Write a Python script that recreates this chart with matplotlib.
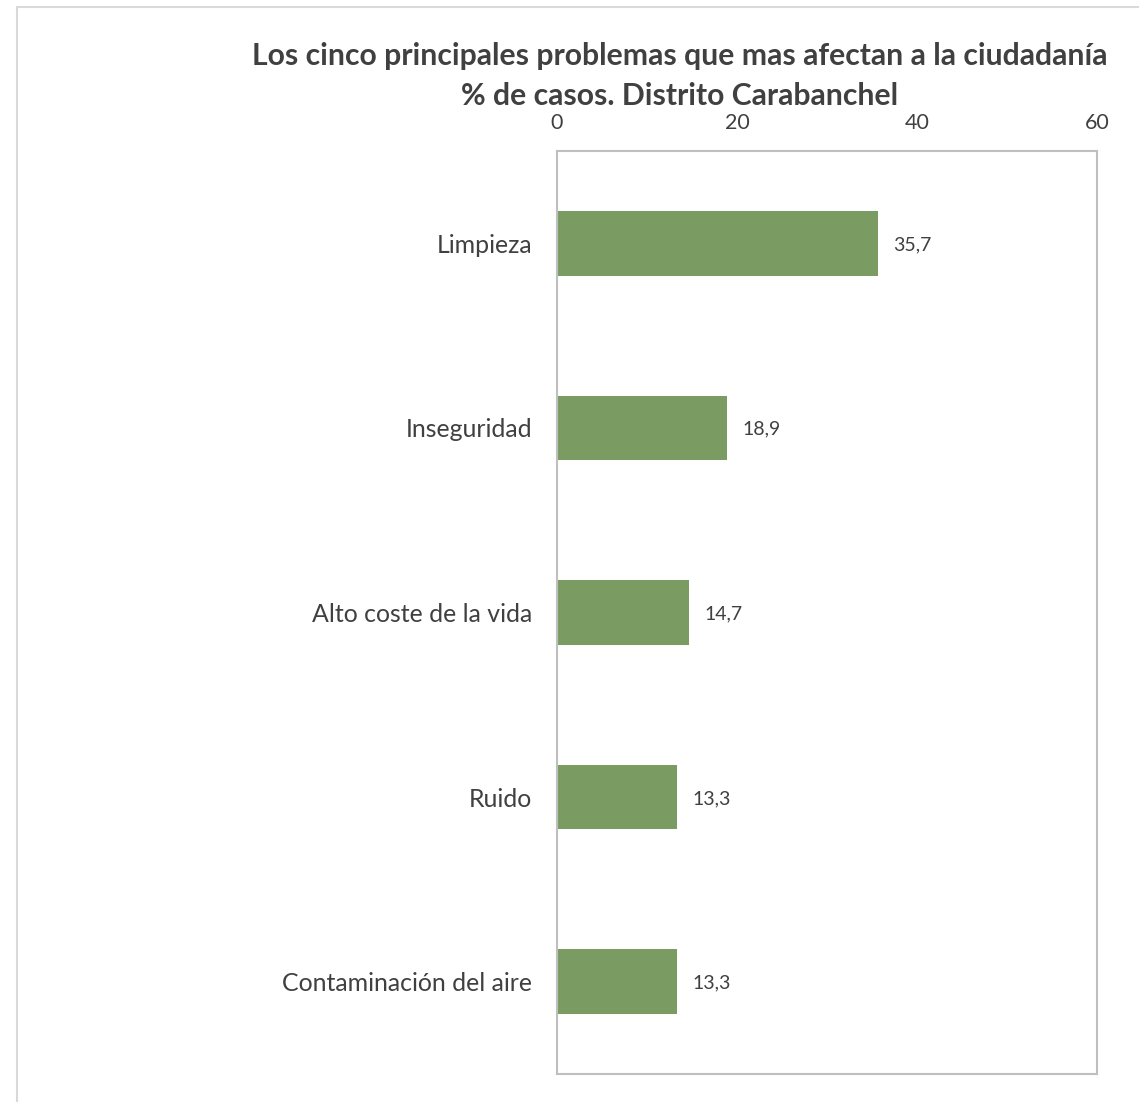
import matplotlib
matplotlib.use("Agg")
import matplotlib.pyplot as plt
from matplotlib.patches import Rectangle

categories = ["Limpieza", "Inseguridad", "Alto coste de la vida", "Ruido", "Contaminación del aire"]
values = [35.7, 18.9, 14.7, 13.3, 13.3]
value_labels = ["35,7", "18,9", "14,7", "13,3", "13,3"]
xticks = [0, 20, 40, 60]
title = "Los cinco principales problemas que mas afectan a la ciudadanía\n% de casos. Distrito Carabanchel"

plt.rcParams['font.family'] = ['Lato', 'DejaVu Sans']

fig = plt.figure(figsize=(11.39, 11.02), dpi=100)
# outer chart border
fig.patches.append(Rectangle((17/1139, -0.01), 1.05, 1 - 7/1102 + 0.01, transform=fig.transFigure,
                             fill=False, edgecolor="#D9D9D9", linewidth=1.5, zorder=0))

ax = fig.add_axes([557/1139, 1 - 1074/1102, (1097 - 557)/1139, (1074 - 151)/1102])
ypos = list(range(len(categories)))
ax.barh(ypos, values, height=0.35, color="#7A9C62")
ax.set_ylim(len(categories) - 0.5, -0.5)
ax.set_xlim(0, 60)
ax.set_xticks(xticks)
ax.set_xticklabels([str(t) for t in xticks], fontsize=15.5, color="#404040")
ax.xaxis.tick_top()
ax.tick_params(axis='x', length=0, pad=13)
ax.set_yticks(ypos)
ax.set_yticklabels(categories, fontsize=17.9, color="#404040")
ax.tick_params(axis='y', length=0, pad=18)
for s in ax.spines.values():
    s.set_color("#BFBFBF")
    s.set_linewidth(1.5)
for y, v, lab in zip(ypos, values, value_labels):
    ax.annotate(lab, (v, y), xytext=(11, -1), textcoords="offset points",
                va="center", ha="left", fontsize=14, color="#404040")

fig.text(680/1139, 1 - 76/1102, title, ha="center", va="center", fontsize=21.7,
         fontweight="bold", color="#404040", linespacing=1.5)

fig.savefig("out.png", dpi=100)
